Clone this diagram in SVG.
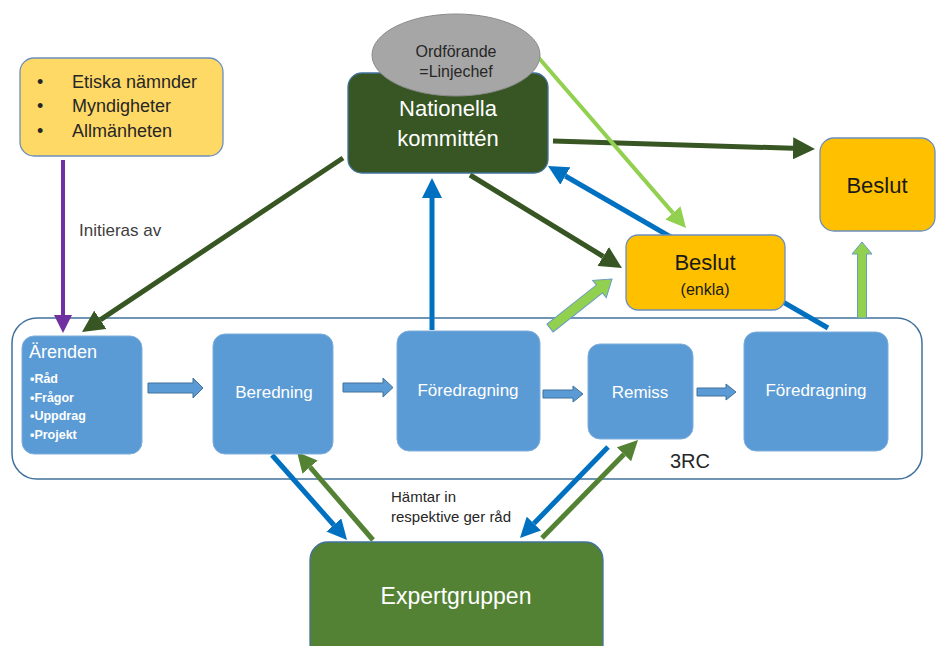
<svg xmlns="http://www.w3.org/2000/svg" width="936" height="646" viewBox="0 0 936 646">
<defs>
<style>
text{font-family:"Liberation Sans",Arial,sans-serif}
.proc{fill:#5B9BD5;stroke:#7FAEDD;stroke-width:1}
.pt{fill:#ffffff;font-size:17px;text-anchor:middle}
.blk{fill:#5B9BD5;stroke:#41719C;stroke-width:1}
.lgb{fill:#92D050;stroke:#6A9BC7;stroke-width:1}
.dg{stroke:#375623;stroke-width:5;fill:none}
.bl{stroke:#0070C0;stroke-width:5;fill:none}
.gr{stroke:#548235;stroke-width:5;fill:none}
.lg{stroke:#92D050;stroke-width:4;fill:none}
.pu{stroke:#7030A0;stroke-width:4;fill:none}
</style>
<marker id="hDG" markerUnits="userSpaceOnUse" markerWidth="24" markerHeight="22" refX="0" refY="11" orient="auto"><path d="M0,0 L22,11 L0,22 Z" fill="#375623"/></marker>
<marker id="hBL" markerUnits="userSpaceOnUse" markerWidth="22" markerHeight="20" refX="0" refY="10" orient="auto"><path d="M0,0 L20,10 L0,20 Z" fill="#0070C0"/></marker>
<marker id="hGR" markerUnits="userSpaceOnUse" markerWidth="22" markerHeight="20" refX="0" refY="10" orient="auto"><path d="M0,0 L20,10 L0,20 Z" fill="#548235"/></marker>
<marker id="hLG" markerUnits="userSpaceOnUse" markerWidth="22" markerHeight="20" refX="0" refY="10" orient="auto"><path d="M0,0 L20,10 L0,20 Z" fill="#92D050"/></marker>
<marker id="hPU" markerUnits="userSpaceOnUse" markerWidth="20" markerHeight="18" refX="0" refY="9" orient="auto"><path d="M0,0 L18,9 L0,18 Z" fill="#7030A0"/></marker>
</defs>
<rect width="936" height="646" fill="#ffffff"/>

<g id="container-3RC">
<rect x="12" y="318" width="910" height="161" rx="25" fill="#ffffff" stroke="#41719C" stroke-width="1.5"/>
<text x="670" y="468" font-size="20" fill="#262626">3RC</text>
</g>

<g id="connectors">
<line class="dg" x1="343" y1="158" x2="100.3" y2="319.8" marker-end="url(#hDG)"/>
<line class="dg" x1="553" y1="141" x2="793" y2="148.3" marker-end="url(#hDG)"/>
<line class="dg" x1="470" y1="175" x2="603.2" y2="256.5" marker-end="url(#hDG)"/>
<line class="lg" x1="538" y1="57" x2="672.9" y2="212.9" marker-end="url(#hLG)"/>
<line class="bl" x1="828" y1="328" x2="565.3" y2="176" marker-end="url(#hBL)"/>
<line class="bl" x1="432" y1="330" x2="432" y2="198" marker-end="url(#hBL)"/>
<line class="bl" x1="272" y1="455" x2="333.8" y2="525" marker-end="url(#hBL)"/>
<line class="gr" x1="373" y1="540" x2="310.1" y2="467.1" marker-end="url(#hGR)"/>
<line class="bl" x1="608" y1="447" x2="533.9" y2="523.6" marker-end="url(#hBL)"/>
<line class="gr" x1="542" y1="538" x2="624" y2="454.3" marker-end="url(#hGR)"/>
<line class="pu" x1="63" y1="160" x2="63" y2="315" marker-end="url(#hPU)"/>
<polygon class="lgb" transform="translate(550,328) rotate(-38.3)" points="0,-5 63,-5 63,-11 79,0 63,11 63,5 0,5"/>
<polygon class="lgb" points="857.5,318 857.5,254 852,254 862,242 872,254 866.5,254 866.5,318"/>
<polygon class="blk" points="148,383 193,383 193,378 203,388 193,398 193,393 148,393"/>
<polygon class="blk" points="343,383 383,383 383,378 393,387.5 383,397 383,392 343,392"/>
<polygon class="blk" points="543,390 573,390 573,386 583,394 573,402 573,398 543,398"/>
<polygon class="blk" points="697,388 726,388 726,384 736,392 726,400 726,396 697,396"/>
<text x="79" y="236" font-size="17" fill="#404040">Initieras av</text>
<text x="391" y="502" font-size="15" fill="#262626">Hämtar in</text>
<text x="391" y="522" font-size="15" fill="#262626">respektive ger råd</text>
</g>

<g id="initiators">
<rect x="20" y="58" width="203" height="98" rx="14" fill="#FFD966" stroke="#6C8EBF" stroke-width="1.3"/>
<g font-size="18" fill="#262626">
<text x="37" y="88">•</text><text x="72" y="88">Etiska nämnder</text>
<text x="37" y="112">•</text><text x="72" y="112">Myndigheter</text>
<text x="37" y="137">•</text><text x="72" y="137">Allmänheten</text>
</g>
</g>

<g id="nationella">
<rect x="348" y="73" width="200" height="100" rx="14" fill="#375623" stroke="#41719C" stroke-width="1.3"/>
<text x="448" y="116" font-size="22" fill="#ffffff" text-anchor="middle">Nationella</text>
<text x="448" y="146" font-size="22" fill="#ffffff" text-anchor="middle">kommittén</text>
</g>

<g id="ordforande">
<ellipse cx="456" cy="55" rx="84" ry="41" fill="#A6A6A6" stroke="#8C8C8C" stroke-width="1"/>
<text x="456" y="57" font-size="16" fill="#262626" text-anchor="middle">Ordförande</text>
<text x="456" y="77" font-size="16" fill="#262626" text-anchor="middle">=Linjechef</text>
</g>

<g id="beslut">
<rect x="820" y="138" width="115" height="93" rx="14" fill="#FFC000" stroke="#6C8EBF" stroke-width="1.3"/>
<text x="877" y="193" font-size="22" fill="#1a1a1a" text-anchor="middle">Beslut</text>
</g>

<g id="beslut-enkla">
<rect x="626" y="235" width="159" height="75" rx="12" fill="#FFC000" stroke="#6C8EBF" stroke-width="1.3"/>
<text x="705" y="270" font-size="22" fill="#1a1a1a" text-anchor="middle">Beslut</text>
<text x="705" y="295" font-size="16" fill="#1a1a1a" text-anchor="middle">(enkla)</text>
</g>

<g id="arenden">
<rect class="proc" x="22" y="336" width="120" height="118" rx="12"/>
<text x="29" y="358" font-size="18" fill="#ffffff">Ärenden</text>
<g font-size="12.5" font-weight="bold" fill="#ffffff">
<text x="30" y="383">•Råd</text>
<text x="30" y="402">•Frågor</text>
<text x="30" y="420">•Uppdrag</text>
<text x="30" y="439">•Projekt</text>
</g>
</g>

<g id="beredning">
<rect class="proc" x="213" y="334" width="120" height="120" rx="12"/>
<text class="pt" x="274" y="398">Beredning</text>
</g>

<g id="foredragning1">
<rect class="proc" x="397" y="331" width="143" height="120" rx="12"/>
<text class="pt" x="468" y="396">Föredragning</text>
</g>

<g id="remiss">
<rect class="proc" x="588" y="344" width="105" height="95" rx="12"/>
<text class="pt" x="640" y="398">Remiss</text>
</g>

<g id="foredragning2">
<rect class="proc" x="744" y="332" width="144" height="119" rx="12"/>
<text class="pt" x="816" y="396">Föredragning</text>
</g>

<g id="expertgruppen">
<rect x="310" y="542" width="293" height="120" rx="18" fill="#548235" stroke="#41719C" stroke-width="1.3"/>
<text x="456" y="604" font-size="23" fill="#ffffff" text-anchor="middle">Expertgruppen</text>
</g>
</svg>
